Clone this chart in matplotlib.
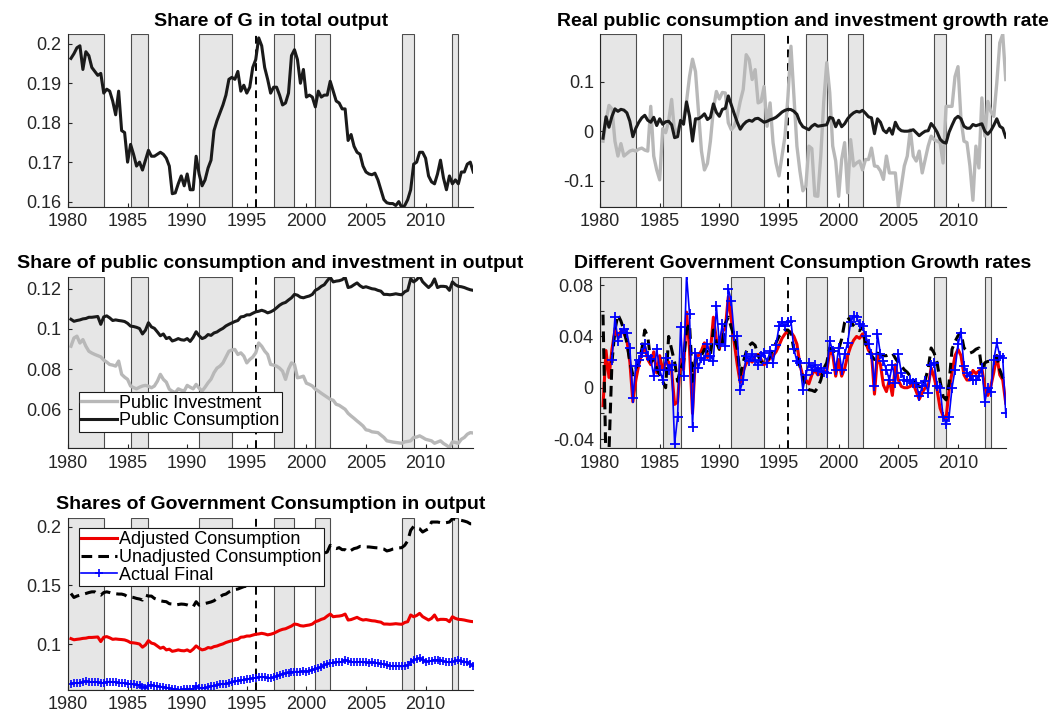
import matplotlib.pyplot as plt
import numpy as np

# quarterly observations 1980Q1 .. 2013Q4, dated at end of quarter
dates = 1980.25 + 0.25 * np.arange(136)

# recession periods and the structural break
rec_start = [1980.0, 1985.25, 1991.0, 1997.25, 2000.75, 2008.0, 2012.25]
rec_end = [1983.0, 1986.75, 1993.75, 1999.0, 2002.0, 2009.0, 2012.75]
break_date = 1995.75

year_ticks = [1980, 1985, 1990, 1995, 2000, 2005, 2010]
year_labels = ['1980', '1985', '1990', '1995', '2000', '2005', '2010']

# share of G in total output
g_share = [
    0.1963, 0.1975, 0.1990, 0.1995,  # 1980
    0.1935, 0.1980, 0.1970, 0.1940,  # 1981
    0.1930, 0.1920, 0.1925, 0.1875,  # 1982
    0.1885, 0.1880, 0.1855, 0.1820,  # 1983
    0.1880, 0.1780, 0.1775, 0.1700,  # 1984
    0.1745, 0.1720, 0.1690, 0.1700,  # 1985
    0.1680, 0.1705, 0.1730, 0.1715,  # 1986
    0.1715, 0.1720, 0.1725, 0.1720,  # 1987
    0.1710, 0.1690, 0.1620, 0.1622,  # 1988
    0.1645, 0.1665, 0.1640, 0.1670,  # 1989
    0.1630, 0.1630, 0.1715, 0.1670,  # 1990
    0.1640, 0.1655, 0.1685, 0.1705,  # 1991
    0.1780, 0.1805, 0.1825, 0.1845,  # 1992
    0.1870, 0.1910, 0.1915, 0.1910,  # 1993
    0.1930, 0.1880, 0.1895, 0.1875,  # 1994
    0.1890, 0.1940, 0.1960, 0.2015,  # 1995
    0.1995, 0.1940, 0.1910, 0.1875,  # 1996
    0.1890, 0.1890, 0.1870, 0.1845,  # 1997
    0.1850, 0.1875, 0.1970, 0.1985,  # 1998
    0.1960, 0.1900, 0.1935, 0.1865,  # 1999
    0.1870, 0.1865, 0.1840, 0.1880,  # 2000
    0.1865, 0.1870, 0.1870, 0.1905,  # 2001
    0.1880, 0.1855, 0.1850, 0.1835,  # 2002
    0.1835, 0.1755, 0.1770, 0.1740,  # 2003
    0.1725, 0.1720, 0.1690, 0.1675,  # 2004
    0.1670, 0.1668, 0.1672, 0.1655,  # 2005
    0.1630, 0.1605, 0.1597, 0.1595,  # 2006
    0.1595, 0.1590, 0.1600, 0.1585,  # 2007
    0.1590, 0.1605, 0.1630, 0.1695,  # 2008
    0.1700, 0.1725, 0.1725, 0.1710,  # 2009
    0.1665, 0.1650, 0.1645, 0.1670,  # 2010
    0.1705, 0.1660, 0.1630, 0.1665,  # 2011
    0.1645, 0.1655, 0.1645, 0.1675,  # 2012
    0.1675, 0.1695, 0.1700, 0.1675,  # 2013
]

# real growth rates: public investment (grey) and public consumption (black)
inv_growth = [
    -0.020, 0.020, 0.052, 0.045,  # 1980
    -0.020, -0.050, -0.025, -0.050,  # 1981
    -0.045, -0.040, -0.038, -0.040,  # 1982
    -0.036, -0.034, -0.038, -0.040,  # 1983
    0.050, -0.050, -0.078, -0.098,  # 1984
    0.005, -0.003, 0.020, 0.064,  # 1985
    -0.003, 0.003, 0.017, 0.024,  # 1986
    0.060, 0.110, 0.145, 0.120,  # 1987
    0.040, -0.040, -0.078, -0.065,  # 1988
    -0.020, 0.044, 0.080, 0.065,  # 1989
    0.078, 0.077, 0.017, 0.003,  # 1990
    0.010, 0.030, 0.060, 0.084,  # 1991
    0.154, 0.144, 0.104, 0.124,  # 1992
    0.057, 0.060, 0.090, 0.010,  # 1993
    0.057, -0.023, -0.064, -0.090,  # 1994
    -0.050, -0.010, 0.070, 0.171,  # 1995
    0.070, -0.030, -0.080, -0.120,  # 1996
    -0.110, -0.030, -0.035, -0.130,  # 1997
    -0.131, -0.050, 0.060, 0.138,  # 1998
    0.078, -0.030, -0.060, -0.131,  # 1999
    -0.057, -0.023, -0.124, -0.017,  # 2000
    -0.070, -0.064, -0.060, -0.078,  # 2001
    -0.057, -0.057, -0.034, -0.070,  # 2002
    -0.071, -0.080, -0.097, -0.050,  # 2003
    -0.084, -0.084, -0.084, -0.151,  # 2004
    -0.111, -0.070, -0.050, 0.003,  # 2005
    -0.050, -0.060, -0.040, -0.084,  # 2006
    -0.057, -0.030, -0.010, -0.017,  # 2007
    -0.020, -0.023, -0.064, 0.050,  # 2008
    0.050, 0.050, 0.110, 0.130,  # 2009
    0.024, -0.020, -0.023, -0.070,  # 2010
    -0.139, -0.030, -0.074, 0.067,  # 2011
    -0.010, 0.060, 0.040, 0.030,  # 2012
    0.097, 0.178, 0.195, 0.104,  # 2013
]

cons_growth = [
    -0.014, 0.029, 0.008, 0.030,  # 1980
    0.045, 0.040, 0.044, 0.0425,  # 1981
    0.037, 0.020, -0.011, 0.006,  # 1982
    0.018, 0.027, 0.032, 0.022,  # 1983
    0.018, 0.028, 0.0115, 0.025,  # 1984
    0.014, 0.019, 0.020, 0.013,  # 1985
    -0.013, -0.011, 0.022, 0.014,  # 1986
    0.059, 0.030, -0.020, 0.025,  # 1987
    0.025, 0.029, 0.035, 0.0235,  # 1988
    0.028, 0.055, 0.038, 0.030,  # 1989
    0.044, 0.046, 0.071, 0.053,  # 1990
    0.035, 0.018, 0.004, 0.013,  # 1991
    0.019, 0.022, 0.020, 0.025,  # 1992
    0.026, 0.022, 0.018, 0.020,  # 1993
    0.023, 0.025, 0.028, 0.033,  # 1994
    0.0385, 0.042, 0.044, 0.0435,  # 1995
    0.040, 0.034, 0.018, 0.009,  # 1996
    0.006, 0.003, 0.010, 0.014,  # 1997
    0.010, 0.011, 0.012, 0.013,  # 1998
    0.028, 0.026, 0.009, 0.022,  # 1999
    0.009, 0.015, 0.025, 0.032,  # 2000
    0.037, 0.040, 0.0385, 0.042,  # 2001
    0.036, 0.029, 0.027, -0.005,  # 2002
    0.025, 0.018, 0.002, -0.003,  # 2003
    0.006, -0.006, 0.018, 0.006,  # 2004
    0.001, 0.000, 0.000, 0.001,  # 2005
    0.003, -0.003, -0.009, -0.004,  # 2006
    0.000, 0.001, 0.0155, 0.008,  # 2007
    -0.002, -0.016, -0.022, -0.024,  # 2008
    -0.002, 0.012, 0.025, 0.030,  # 2009
    0.025, 0.010, 0.006, 0.006,  # 2010
    0.0135, 0.011, 0.013, 0.015,  # 2011
    0.000, -0.006, 0.001, 0.012,  # 2012
    0.025, 0.010, 0.006, -0.012,  # 2013
]

# shares in output: public investment and public (adjusted) consumption
pub_inv = [
    0.0914, 0.0955, 0.0964, 0.0930,  # 1980
    0.0947, 0.0914, 0.0889, 0.0880,  # 1981
    0.0873, 0.0867, 0.0861, 0.0845,  # 1982
    0.0835, 0.0823, 0.0820, 0.0815,  # 1983
    0.0840, 0.0774, 0.0760, 0.0749,  # 1984
    0.0716, 0.0708, 0.0702, 0.0710,  # 1985
    0.0716, 0.0719, 0.0715, 0.0707,  # 1986
    0.0716, 0.0740, 0.0774, 0.0749,  # 1987
    0.0735, 0.0700, 0.0690, 0.0683,  # 1988
    0.0702, 0.0695, 0.0691, 0.0719,  # 1989
    0.0710, 0.0702, 0.0724, 0.0705,  # 1990
    0.0691, 0.0710, 0.0732, 0.0750,  # 1991
    0.0782, 0.0805, 0.0815, 0.0831,  # 1992
    0.0860, 0.0889, 0.0895, 0.0898,  # 1993
    0.0873, 0.0881, 0.0865, 0.0831,  # 1994
    0.0848, 0.0860, 0.0881, 0.0930,  # 1995
    0.0914, 0.0890, 0.0873, 0.0823,  # 1996
    0.0820, 0.0815, 0.0805, 0.0790,  # 1997
    0.0749, 0.0800, 0.0831, 0.0823,  # 1998
    0.0757, 0.0760, 0.0765, 0.0730,  # 1999
    0.0724, 0.0716, 0.0700, 0.0691,  # 2000
    0.0680, 0.0670, 0.0660, 0.0650,  # 2001
    0.0645, 0.0625, 0.0620, 0.0610,  # 2002
    0.0600, 0.0580, 0.0567, 0.0555,  # 2003
    0.0542, 0.0530, 0.0517, 0.0498,  # 2004
    0.0495, 0.0488, 0.0486, 0.0484,  # 2005
    0.0472, 0.0460, 0.0443, 0.0440,  # 2006
    0.0437, 0.0435, 0.0433, 0.0431,  # 2007
    0.0438, 0.0440, 0.0443, 0.0460,  # 2008
    0.0462, 0.0468, 0.0460, 0.0451,  # 2009
    0.0447, 0.0443, 0.0431, 0.0437,  # 2010
    0.0443, 0.0430, 0.0421, 0.0410,  # 2011
    0.0438, 0.0435, 0.0431, 0.0451,  # 2012
    0.0460, 0.0476, 0.0484, 0.0482,  # 2013
]

pub_cons = [
    0.1048, 0.1038, 0.1042, 0.1045,  # 1980
    0.1050, 0.1052, 0.1058, 0.1058,  # 1981
    0.1060, 0.1062, 0.1023, 0.1060,  # 1982
    0.1065, 0.1055, 0.1042, 0.1045,  # 1983
    0.1042, 0.1040, 0.1037, 0.1028,  # 1984
    0.1014, 0.1012, 0.1008, 0.1002,  # 1985
    0.0975, 0.0994, 0.1031, 0.1010,  # 1986
    0.1003, 0.0985, 0.0966, 0.0975,  # 1987
    0.0952, 0.0958, 0.0940, 0.0945,  # 1988
    0.0952, 0.0946, 0.0944, 0.0952,  # 1989
    0.0938, 0.0958, 0.0986, 0.0966,  # 1990
    0.0952, 0.0958, 0.0972, 0.0968,  # 1991
    0.0980, 0.0985, 0.0995, 0.1003,  # 1992
    0.1015, 0.1023, 0.1030, 0.1037,  # 1993
    0.1042, 0.1060, 0.1062, 0.1070,  # 1994
    0.1070, 0.1078, 0.1085, 0.1088,  # 1995
    0.1093, 0.1088, 0.1080, 0.1085,  # 1996
    0.1093, 0.1105, 0.1118, 0.1127,  # 1997
    0.1132, 0.1144, 0.1155, 0.1172,  # 1998
    0.1168, 0.1158, 0.1155, 0.1160,  # 1999
    0.1164, 0.1172, 0.1192, 0.1200,  # 2000
    0.1212, 0.1220, 0.1240, 0.1257,  # 2001
    0.1234, 0.1238, 0.1240, 0.1245,  # 2002
    0.1257, 0.1206, 0.1210, 0.1220,  # 2003
    0.1229, 0.1215, 0.1206, 0.1210,  # 2004
    0.1205, 0.1200, 0.1198, 0.1192,  # 2005
    0.1188, 0.1172, 0.1172, 0.1170,  # 2006
    0.1172, 0.1175, 0.1172, 0.1170,  # 2007
    0.1185, 0.1192, 0.1249, 0.1234,  # 2008
    0.1245, 0.1263, 0.1235, 0.1220,  # 2009
    0.1206, 0.1220, 0.1249, 0.1206,  # 2010
    0.1212, 0.1212, 0.1210, 0.1192,  # 2011
    0.1234, 0.1220, 0.1212, 0.1210,  # 2012
    0.1206, 0.1200, 0.1195, 0.1192,  # 2013
]

# unadjusted government consumption and actual final consumption shares
unadj_cons = [
    0.1432, 0.1398, 0.1410, 0.1418,  # 1980
    0.1425, 0.1432, 0.1440, 0.1446,  # 1981
    0.1446, 0.1427, 0.1418, 0.1440,  # 1982
    0.1446, 0.1440, 0.1432, 0.1430,  # 1983
    0.1427, 0.1427, 0.1420, 0.1404,  # 1984
    0.1402, 0.1398, 0.1390, 0.1385,  # 1985
    0.1376, 0.1418, 0.1410, 0.1410,  # 1986
    0.1390, 0.1380, 0.1370, 0.1365,  # 1987
    0.1362, 0.1345, 0.1342, 0.1333,  # 1988
    0.1338, 0.1342, 0.1340, 0.1335,  # 1989
    0.1325, 0.1319, 0.1362, 0.1333,  # 1990
    0.1340, 0.1347, 0.1353, 0.1360,  # 1991
    0.1370, 0.1390, 0.1404, 0.1420,  # 1992
    0.1427, 0.1445, 0.1455, 0.1466,  # 1993
    0.1470, 0.1480, 0.1490, 0.1495,  # 1994
    0.1510, 0.1520, 0.1535, 0.1550,  # 1995
    0.1560, 0.1555, 0.1555, 0.1570,  # 1996
    0.1590, 0.1610, 0.1630, 0.1650,  # 1997
    0.1660, 0.1680, 0.1700, 0.1730,  # 1998
    0.1720, 0.1710, 0.1710, 0.1715,  # 1999
    0.1720, 0.1735, 0.1750, 0.1765,  # 2000
    0.1770, 0.1775, 0.1785, 0.1842,  # 2001
    0.1820, 0.1814, 0.1822, 0.1805,  # 2002
    0.1805, 0.1785, 0.1800, 0.1814,  # 2003
    0.1820, 0.1833, 0.1830, 0.1828,  # 2004
    0.1828, 0.1825, 0.1822, 0.1820,  # 2005
    0.1814, 0.1810, 0.1794, 0.1800,  # 2006
    0.1810, 0.1814, 0.1820, 0.1822,  # 2007
    0.1842, 0.1880, 0.1969, 0.2003,  # 2008
    0.1990, 0.1983, 0.1955, 0.1970,  # 2009
    0.1983, 0.2040, 0.2040, 0.2040,  # 2010
    0.2035, 0.2031, 0.2035, 0.2040,  # 2011
    0.2068, 0.2062, 0.2059, 0.2054,  # 2012
    0.2048, 0.2040, 0.2025, 0.2025,  # 2013
]

actual_final = [
    0.0665, 0.0670, 0.0668, 0.0672,  # 1980
    0.0678, 0.0684, 0.0680, 0.0678,  # 1981
    0.0680, 0.0676, 0.0672, 0.0668,  # 1982
    0.0680, 0.0682, 0.0678, 0.0676,  # 1983
    0.0672, 0.0670, 0.0668, 0.0664,  # 1984
    0.0662, 0.0658, 0.0655, 0.0650,  # 1985
    0.0638, 0.0627, 0.0648, 0.0655,  # 1986
    0.0648, 0.0642, 0.0640, 0.0636,  # 1987
    0.0632, 0.0625, 0.0620, 0.0618,  # 1988
    0.0613, 0.0615, 0.0618, 0.0619,  # 1989
    0.0617, 0.0620, 0.0647, 0.0632,  # 1990
    0.0627, 0.0630, 0.0634, 0.0641,  # 1991
    0.0645, 0.0650, 0.0658, 0.0662,  # 1992
    0.0666, 0.0670, 0.0676, 0.0684,  # 1993
    0.0688, 0.0692, 0.0698, 0.0703,  # 1994
    0.0706, 0.0710, 0.0715, 0.0720,  # 1995
    0.0722, 0.0718, 0.0712, 0.0712,  # 1996
    0.0718, 0.0726, 0.0735, 0.0749,  # 1997
    0.0752, 0.0758, 0.0764, 0.0768,  # 1998
    0.0765, 0.0768, 0.0770, 0.0768,  # 1999
    0.0775, 0.0782, 0.0790, 0.0797,  # 2000
    0.0808, 0.0820, 0.0830, 0.0839,  # 2001
    0.0842, 0.0848, 0.0845, 0.0853,  # 2002
    0.0867, 0.0855, 0.0850, 0.0845,  # 2003
    0.0848, 0.0852, 0.0846, 0.0845,  # 2004
    0.0843, 0.0848, 0.0842, 0.0839,  # 2005
    0.0835, 0.0830, 0.0822, 0.0816,  # 2006
    0.0815, 0.0818, 0.0813, 0.0811,  # 2007
    0.0815, 0.0825, 0.0845, 0.0867,  # 2008
    0.0875, 0.0881, 0.0868, 0.0853,  # 2009
    0.0855, 0.0860, 0.0867, 0.0867,  # 2010
    0.0860, 0.0855, 0.0850, 0.0845,  # 2011
    0.0852, 0.0858, 0.0862, 0.0855,  # 2012
    0.0845, 0.0848, 0.0830, 0.0816,  # 2013
]

# growth rates of the three government consumption measures
unadj_growth = [
    0.057, -0.060, -0.050, 0.020,  # 1980
    0.045, 0.057, 0.052, 0.045,  # 1981
    0.035, 0.020, 0.010, 0.015,  # 1982
    0.020, 0.030, 0.045, 0.040,  # 1983
    0.020, 0.022, 0.015, 0.010,  # 1984
    0.005, 0.000, 0.040, 0.030,  # 1985
    0.020, 0.005, 0.015, 0.020,  # 1986
    0.045, 0.050, 0.005, 0.022,  # 1987
    0.022, 0.025, 0.030, 0.028,  # 1988
    0.025, 0.045, 0.035, 0.030,  # 1989
    0.035, 0.050, 0.055, 0.047,  # 1990
    0.040, 0.030, 0.010, 0.020,  # 1991
    0.028, 0.033, 0.035, 0.033,  # 1992
    0.025, 0.020, 0.020, 0.020,  # 1993
    0.025, 0.030, 0.035, 0.040,  # 1994
    0.043, 0.045, 0.045, 0.042,  # 1995
    0.030, 0.025, 0.017, 0.008,  # 1996
    0.001, -0.0016, -0.002, -0.003,  # 1997
    0.000, 0.006, 0.015, 0.0195,  # 1998
    0.031, 0.030, 0.027, 0.030,  # 1999
    0.038, 0.051, 0.055, 0.052,  # 2000
    0.0484, 0.046, 0.0445, 0.0484,  # 2001
    0.034, 0.031, 0.025, 0.022,  # 2002
    0.027, 0.026, 0.025, 0.025,  # 2003
    0.026, 0.027, 0.023, 0.0195,  # 2004
    0.017, 0.014, 0.012, 0.009,  # 2005
    0.007, 0.0037, 0.001, 0.000,  # 2006
    0.006, 0.015, 0.031, 0.027,  # 2007
    0.0195, 0.005, -0.0068, -0.0095,  # 2008
    0.0037, 0.030, 0.036, 0.0405,  # 2009
    0.043, 0.031, 0.029, 0.027,  # 2010
    0.028, 0.030, 0.031, 0.014,  # 2011
    0.0195, 0.0205, 0.0208, 0.023,  # 2012
    0.025, 0.014, 0.008, 0.0037,  # 2013
]

actual_growth = [
    np.nan, np.nan, np.nan, 0.0216,  # 1980
    0.055, 0.0366, 0.043, 0.0458,  # 1981
    0.043, 0.031, -0.008, 0.017,  # 1982
    0.022, 0.027, 0.034, 0.025,  # 1983
    0.0226, 0.009, 0.030, 0.014,  # 1984
    0.006, 0.0234, 0.014, 0.018,  # 1985
    -0.0437, -0.0226, 0.047, 0.009,  # 1986
    0.088, 0.0576, -0.0305, 0.027,  # 1987
    0.0155, 0.0234, 0.022, 0.034,  # 1988
    0.025, 0.0208, 0.064, 0.034,  # 1989
    0.0497, 0.0326, 0.077, 0.068,  # 1990
    0.0405, 0.0405, -0.0016, 0.006,  # 1991
    0.025, 0.0208, 0.026, 0.022,  # 1992
    0.018, 0.025, 0.027, 0.0195,  # 1993
    0.0287, 0.0195, 0.033, 0.048,  # 1994
    0.051, 0.048, 0.051, 0.052,  # 1995
    0.030, 0.0208, 0.0195, -0.0016,  # 1996
    0.010, 0.0195, 0.014, 0.018,  # 1997
    0.013, 0.0155, 0.012, 0.0116,  # 1998
    0.0366, 0.0287, 0.014, 0.031,  # 1999
    0.014, 0.026, 0.035, 0.051,  # 2000
    0.056, 0.055, 0.050, 0.0484,  # 2001
    0.0405, 0.034, 0.026, 0.001,  # 2002
    0.042, 0.026, 0.0208, 0.014,  # 2003
    0.006, 0.018, 0.0037, 0.026,  # 2004
    0.0116, 0.006, 0.005, 0.006,  # 2005
    0.0037, 0.0037, -0.0068, 0.001,  # 2006
    0.005, -0.004, 0.018, 0.0195,  # 2007
    0.001, 0.000, -0.0226, -0.028,  # 2008
    -0.0226, 0.000, 0.014, 0.034,  # 2009
    0.043, 0.017, 0.0116, 0.009,  # 2010
    0.006, 0.006, 0.009, 0.0155,  # 2011
    -0.0108, 0.000, -0.003, 0.022,  # 2012
    0.035, 0.025, 0.023, -0.020,  # 2013
]

plt.rcParams['font.family'] = ['Liberation Sans', 'DejaVu Sans']
TICK_FS = 13
TITLE_FS = 14


def style_axes(ax, ylim, yticks, ylabels, title):
    for s, e in zip(rec_start, rec_end):
        ax.axvspan(s, e, facecolor='0.9', edgecolor='0.3', linewidth=0.8, zorder=0)
    ax.axvline(break_date, color='k', linestyle=(0, (4, 3)), linewidth=1.4, zorder=1)
    ax.set_xlim(1980, 2014)
    ax.set_ylim(*ylim)
    ax.set_xticks(year_ticks)
    ax.set_xticklabels(year_labels)
    ax.set_yticks(yticks)
    ax.set_yticklabels(ylabels)
    ax.spines[['top', 'right']].set_visible(False)
    for side in ['left', 'bottom']:
        ax.spines[side].set_color('0.15')
        ax.spines[side].set_linewidth(0.8)
    ax.tick_params(direction='in', length=3, width=0.8, labelsize=TICK_FS,
                   color='0.15', labelcolor='0.15', pad=4.5)
    ax.set_title(title, fontsize=TITLE_FS, fontweight='bold', pad=6)


fig = plt.figure(figsize=(10.59, 7.2), dpi=100)
ax1 = fig.add_axes([0.0642, 0.7129, 0.3827, 0.2394])
ax2 = fig.add_axes([0.5666, 0.7129, 0.3831, 0.2394])
ax3 = fig.add_axes([0.0642, 0.3771, 0.3827, 0.2386])
ax4 = fig.add_axes([0.5666, 0.3771, 0.3831, 0.2386])
ax5 = fig.add_axes([0.0642, 0.0417, 0.3827, 0.2393])

# 1) share of G
ax1.plot(dates, g_share, color='0.1', linewidth=2.2)
style_axes(ax1, (0.1587, 0.2024), [0.16, 0.17, 0.18, 0.19, 0.2],
           ['0.16', '0.17', '0.18', '0.19', '0.2'], 'Share of G in total output')

# 2) growth rates
ax2.plot(dates, inv_growth, color='0.72', linewidth=2.4)
ax2.plot(dates, cons_growth, color='0.1', linewidth=2.2)
style_axes(ax2, (-0.152, 0.195), [-0.1, 0, 0.1], ['-0.1', '0', '0.1'],
           'Real public consumption and investment growth rate')

# 3) shares of public consumption and investment
ax3.plot(dates, pub_inv, color='0.72', linewidth=2.4, label='Public Investment')
ax3.plot(dates, pub_cons, color='0.1', linewidth=2.2, label='Public Consumption')
style_axes(ax3, (0.0405, 0.126), [0.06, 0.08, 0.1, 0.12],
           ['0.06', '0.08', '0.1', '0.12'],
           'Share of public consumption and investment in output')
leg3 = ax3.legend(loc='lower left', bbox_to_anchor=(0.026, 0.095), fontsize=TICK_FS,
                  fancybox=False, edgecolor='0.1', framealpha=1, handlelength=2.0,
                  handletextpad=0.1, borderpad=0.15, labelspacing=0.05,
                  borderaxespad=0)
leg3.get_frame().set_linewidth(0.8)

# 4) different government consumption growth rates
ax4.plot(dates, cons_growth, color='#ee0000', linewidth=2.2)
ax4.plot(dates, unadj_growth, color='k', linewidth=2.2, linestyle=(0, (3.5, 2)))
ax4.plot(dates, actual_growth, color='#0000ff', linewidth=1.2, marker='+',
         markersize=7, markeredgewidth=1.3)
style_axes(ax4, (-0.0474, 0.0866), [-0.04, -0.02, 0, 0.02, 0.04, 0.06, 0.08],
           ['-0.04', '', '0', '', '0.04', '', '0.08'],
           'Different Government Consumption Growth rates')

# 5) shares of government consumption
ax5.plot(dates, pub_cons, color='#ee0000', linewidth=2.2, label='Adjusted Consumption')
ax5.plot(dates, unadj_cons, color='k', linewidth=2.2, linestyle=(0, (3.5, 2)),
         label='Unadjusted Consumption')
ax5.plot(dates, actual_final, color='#0000ff', linewidth=1.2, marker='+',
         markersize=6, markeredgewidth=1.2, label='Actual Final')
style_axes(ax5, (0.0611, 0.2077), [0.1, 0.15, 0.2], ['0.1', '0.15', '0.2'],
           'Shares of Government Consumption in output')
leg5 = ax5.legend(loc='upper left', bbox_to_anchor=(0.026, 0.9385), fontsize=TICK_FS,
                  fancybox=False, edgecolor='0.1', framealpha=1, handlelength=2.0,
                  handletextpad=0.1, borderpad=0.15, labelspacing=0.05,
                  borderaxespad=0, numpoints=1)
leg5.get_frame().set_linewidth(0.8)

fig.savefig('out.png', dpi=100)
